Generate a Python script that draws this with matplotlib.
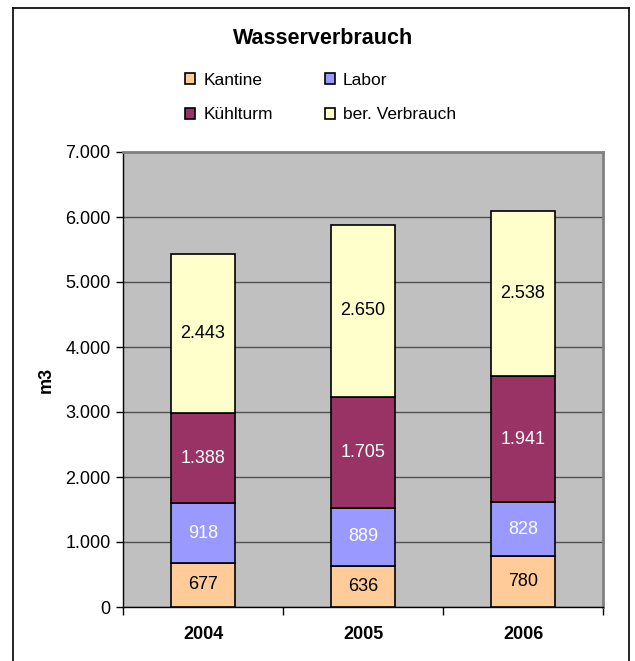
import matplotlib.pyplot as plt
from matplotlib.lines import Line2D
from matplotlib.patches import Patch
from matplotlib.ticker import FuncFormatter, FixedLocator, NullFormatter

plt.rcParams['font.family'] = ['Liberation Sans', 'DejaVu Sans']

years = ['2004', '2005', '2006']
kantine = [677, 636, 780]
labor = [918, 889, 828]
kuehlturm = [1388, 1705, 1941]
verbrauch = [2443, 2650, 2538]

series = [
    ('Kantine', kantine, '#FFCC99', 'black'),
    ('Labor', labor, '#9999FF', 'white'),
    ('Kühlturm', kuehlturm, '#993366', 'white'),
    ('ber. Verbrauch', verbrauch, '#FFFFCC', 'black'),
]

fig = plt.figure(figsize=(6.35, 6.61), dpi=100)
ax = fig.add_axes([123/635, 1 - 607/661, 480/635, 455/661])
ax.set_facecolor('#C0C0C0')

x = list(range(len(years)))
bottom = [0, 0, 0]
for name, vals, col, tcol in series:
    bars = ax.bar(x, vals, width=0.4, bottom=bottom, color=col,
                  edgecolor='black', linewidth=1.2, zorder=3)
    for i, b in enumerate(bars):
        ax.text(b.get_x() + b.get_width() / 2, bottom[i] + vals[i] / 2,
                f'{vals[i]:,}'.replace(',', '.'), ha='center', va='center',
                color=tcol, fontsize=13, zorder=4)
    bottom = [bottom[i] + vals[i] for i in range(len(vals))]

ax.set_xlim(-0.5, 2.5)
ax.set_ylim(0, 7000)
ax.set_yticks(range(0, 7001, 1000))
ax.yaxis.set_major_formatter(FuncFormatter(lambda v, p: f'{int(v):,}'.replace(',', '.')))
ax.grid(axis='y', color='#505050', linewidth=1, zorder=1)

ax.xaxis.set_major_locator(FixedLocator([-0.5, 0.5, 1.5, 2.5]))
ax.xaxis.set_major_formatter(NullFormatter())
ax.xaxis.set_minor_locator(FixedLocator(x))
ax.set_xticklabels(years, minor=True, fontweight='bold', fontsize=13)
ax.tick_params(axis='x', which='minor', length=0, pad=14)
ax.tick_params(axis='x', which='major', length=6, width=1, direction='out')
ax.tick_params(axis='y', length=5, width=1, labelsize=13, pad=4)

for s in ['left', 'bottom']:
    ax.spines[s].set_color('black')
    ax.spines[s].set_linewidth(1)
for s in ['top', 'right']:
    ax.spines[s].set_color('#808080')
    ax.spines[s].set_linewidth(2)

ax.set_ylabel('m3', fontweight='bold', fontsize=13)
ax.yaxis.set_label_coords(-0.142, 0.5)

fig.text(323/635, 1 - 38/661, 'Wasserverbrauch', ha='center', va='center',
         fontsize=15.5, fontweight='bold')

# matplotlib fills legend columns first, so order for row-wise reading
handles = [Patch(facecolor=c, edgecolor='black', linewidth=1.2, label=n) for n, _, c, _ in series]
handles = [handles[0], handles[2], handles[1], handles[3]]
fig.legend(handles=handles, ncol=2, loc='center', bbox_to_anchor=(320.5/635, 1 - 97.5/661),
           frameon=False, fontsize=12.5, handlelength=0.58, handleheight=0.58,
           handletextpad=0.45, columnspacing=3.0, labelspacing=1.15)

# outer chart frame
fig.add_artist(Line2D([13/635, 13/635], [0, 1 - 8/661], color='black', linewidth=1.2))
fig.add_artist(Line2D([629/635, 629/635], [0, 1 - 8/661], color='black', linewidth=1.2))
fig.add_artist(Line2D([13/635, 629/635], [1 - 8/661, 1 - 8/661], color='black', linewidth=1.2))

fig.savefig('out.png', dpi=100)
